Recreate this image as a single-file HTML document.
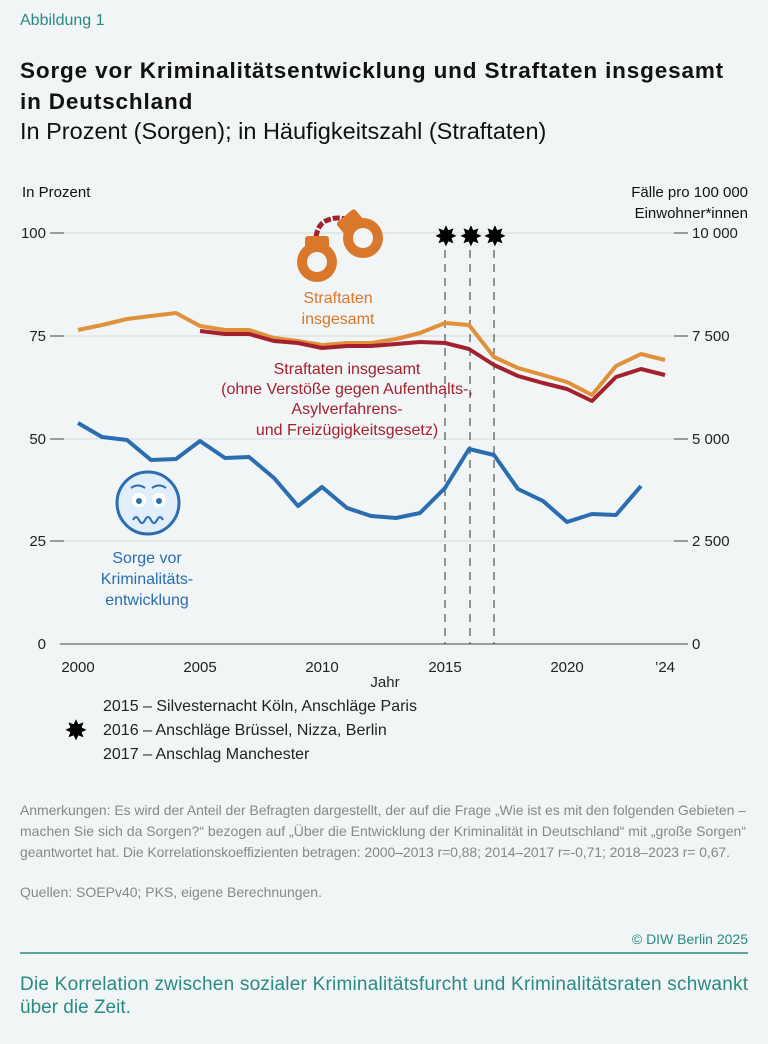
<!DOCTYPE html>
<html><head><meta charset="utf-8"><style>
body{margin:0;width:768px;height:1044px;background:#f1f5f6;font-family:"Liberation Sans",sans-serif;overflow:hidden;position:relative}
.t{position:absolute;white-space:nowrap}
</style></head><body>
<div class="t" style="left:20px;top:12px;font-size:16px;color:#2a8a83">Abbildung 1</div>
<div class="t" style="left:20px;top:55px;font-size:22.5px;font-weight:bold;color:#111;line-height:31px;letter-spacing:0.85px">Sorge vor Kriminalitätsentwicklung und Straftaten insgesamt<br>in Deutschland</div>
<div class="t" style="left:20px;top:118px;font-size:23.5px;color:#111">In Prozent (Sorgen); in Häufigkeitszahl (Straftaten)</div>
<svg width="768" height="1044" style="position:absolute;left:0;top:0" font-family="Liberation Sans, sans-serif">
<g font-size="15" fill="#111">
<text x="22" y="197">In Prozent</text>
<text x="748" y="197" text-anchor="end">Fälle pro 100 000</text>
<text x="748" y="218" text-anchor="end">Einwohner*innen</text>
</g>
<g stroke="#d6dadc" stroke-width="1">
<line x1="60" y1="233" x2="680" y2="233"/><line x1="60" y1="336" x2="680" y2="336"/><line x1="60" y1="439" x2="680" y2="439"/><line x1="60" y1="541" x2="680" y2="541"/>
</g>
<line x1="60" y1="644" x2="680" y2="644" stroke="#444"/>
<g stroke="#444"><line x1="50" y1="233" x2="64" y2="233"/><line x1="50" y1="336" x2="64" y2="336"/><line x1="50" y1="439" x2="64" y2="439"/><line x1="50" y1="541" x2="64" y2="541"/>
<line x1="674" y1="233" x2="688" y2="233"/><line x1="674" y1="336" x2="688" y2="336"/><line x1="674" y1="439" x2="688" y2="439"/><line x1="674" y1="541" x2="688" y2="541"/><line x1="674" y1="644" x2="688" y2="644"/></g>
<g font-size="15" fill="#222" text-anchor="end"><text x="46" y="238">100</text><text x="46" y="341">75</text><text x="46" y="444">50</text><text x="46" y="546">25</text><text x="46" y="649">0</text></g>
<g font-size="15" fill="#222"><text x="692" y="238">10 000</text><text x="692" y="341">7 500</text><text x="692" y="444">5 000</text><text x="692" y="546">2 500</text><text x="692" y="649">0</text></g>
<g font-size="15" fill="#222" text-anchor="middle"><text x="78" y="672">2000</text><text x="200" y="672">2005</text><text x="322" y="672">2010</text><text x="445" y="672">2015</text><text x="567" y="672">2020</text><text x="665" y="672">’24</text><text x="385" y="687">Jahr</text></g>
<g stroke="#333" stroke-dasharray="8,6" stroke-width="1"><line x1="445" y1="250" x2="445" y2="644"/><line x1="470" y1="250" x2="470" y2="644"/><line x1="494" y1="250" x2="494" y2="644"/></g>
<g fill="#000" font-size="28" text-anchor="middle"><text x="446" y="246">✸</text><text x="471" y="246">✸</text><text x="495" y="246">✸</text><text x="76" y="740">✸</text></g>
<polyline fill="none" stroke="#e0913a" stroke-width="4" stroke-linejoin="round" points="78,330 102,325 127,319 151,316 176,313 200,326 225,330 249,330 274,338 298,341 322,345 347,343 371,343 396,339 420,333 445,323 469,325 494,357 518,368 543,375 567,382 592,395 616,366 641,354 665,360"/>
<polyline fill="none" stroke="#a3212f" stroke-width="4" stroke-linejoin="round" points="200,331 225,334 249,334 274,341 298,343 322,348 347,346 371,346 396,344 420,342 445,343 469,349 494,365 518,376 543,383 567,389 592,401 616,377 641,369 665,375"/>
<polyline fill="none" stroke="#2a6db0" stroke-width="4" stroke-linejoin="round" points="78,423 102,437 127,440 151,460 176,459 200,441 225,458 249,457 274,478 298,506 322,487 347,508 371,516 396,518 420,513 445,488 469,449 494,455 518,489 543,501 567,522 592,514 616,515 641,486"/>
<g text-anchor="middle" font-size="16">
<text x="338" y="303" fill="#d9772b">Straftaten</text><text x="338" y="324" fill="#d9772b">insgesamt</text>
<text x="347" y="374" fill="#a3212f">Straftaten insgesamt</text>
<text x="347" y="394" fill="#a3212f">(ohne Verstöße gegen Aufenthalts-,</text>
<text x="347" y="414" fill="#a3212f">Asylverfahrens-</text>
<text x="347" y="435" fill="#a3212f">und Freizügigkeitsgesetz)</text>
<text x="147" y="563" fill="#2a6db0">Sorge vor</text><text x="147" y="584" fill="#2a6db0">Kriminalitäts-</text><text x="147" y="605" fill="#2a6db0">entwicklung</text>
</g>
<g><circle cx="148" cy="503" r="31" fill="#e3eefb" stroke="#2a6db0" stroke-width="3"/>
<circle cx="139" cy="500" r="7" fill="#fff"/><circle cx="159" cy="500" r="7" fill="#fff"/>
<circle cx="139" cy="501" r="3" fill="#2a6db0"/><circle cx="159" cy="501" r="3" fill="#2a6db0"/>
<path d="M131,488 q7,-5 14,0 M152,488 q7,-5 14,0" stroke="#2a6db0" stroke-width="2" fill="none"/>
<path d="M133,520 q3,-6 6,0 q3,6 6,0 q3,-6 6,0 q3,6 6,0 q3,-6 6,0" stroke="#2a6db0" stroke-width="2" fill="none"/></g>
<g><path d="M316,237 q2,-14 12,-17 q10,-4 20,0" stroke="#a3212f" stroke-width="5" fill="none" stroke-dasharray="7,2"/>
<rect x="305" y="236" width="24" height="16" rx="3" fill="#d9772b"/>
<circle cx="317" cy="262" r="20" fill="#d9772b"/><circle cx="317" cy="262" r="10" fill="#f1f5f6"/>
<rect x="338" y="214" width="24" height="16" rx="3" fill="#d9772b" transform="rotate(-40 350 222)"/>
<circle cx="363" cy="238" r="20" fill="#d9772b"/><circle cx="363" cy="238" r="10" fill="#f1f5f6"/></g>
<g font-size="16" fill="#222"><text x="103" y="711">2015 – Silvesternacht Köln, Anschläge Paris</text><text x="103" y="735">2016 – Anschläge Brüssel, Nizza, Berlin</text><text x="103" y="759">2017 – Anschlag Manchester</text></g>
<g font-size="14" fill="#888"><text x="20" y="815" textLength="726">Anmerkungen: Es wird der Anteil der Befragten dargestellt, der auf die Frage „Wie ist es mit den folgenden Gebieten –</text>
<text x="20" y="836" textLength="726">machen Sie sich da Sorgen?“ bezogen auf „Über die Entwicklung der Kriminalität in Deutschland“ mit „große Sorgen“</text>
<text x="20" y="857" textLength="710">geantwortet hat. Die Korrelationskoeffizienten betragen: 2000–2013 r=0,88; 2014–2017 r=-0,71; 2018–2023 r= 0,67.</text>
<text x="20" y="897">Quellen: SOEPv40; PKS, eigene Berechnungen.</text></g>
<text x="748" y="944" text-anchor="end" font-size="14" fill="#2a8a83">© DIW Berlin 2025</text>
<line x1="20" y1="953" x2="748" y2="953" stroke="#2a8a83" stroke-width="1.5"/>
<g font-size="19" fill="#2a8a83"><text x="20" y="990" textLength="728">Die Korrelation zwischen sozialer Kriminalitätsfurcht und Kriminalitätsraten schwankt</text><text x="20" y="1013">über die Zeit.</text></g>
</svg>
</body></html>
